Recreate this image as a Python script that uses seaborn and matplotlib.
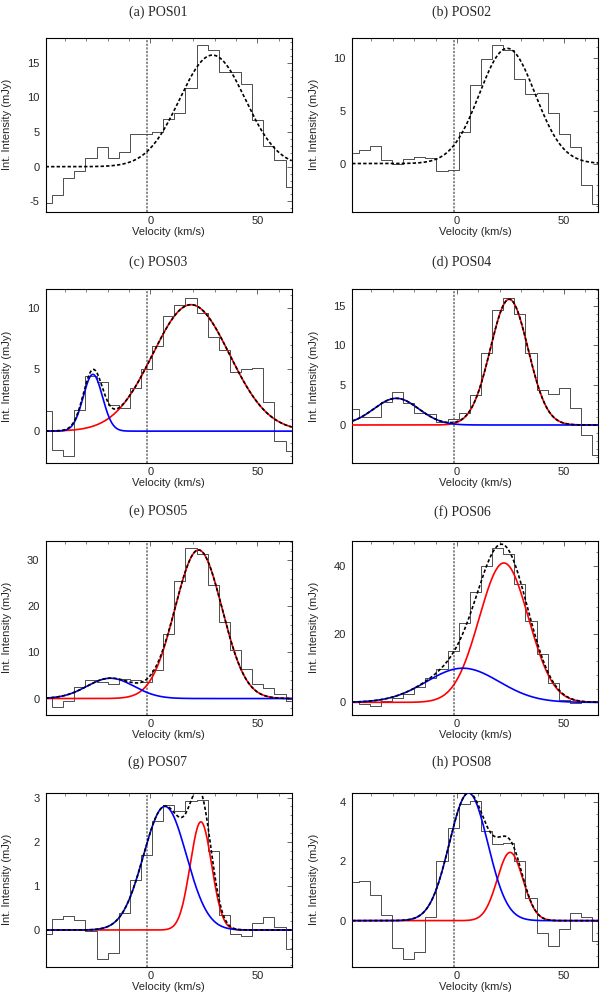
import numpy as np
import pandas as pd
import matplotlib
matplotlib.use("Agg")
import matplotlib.pyplot as plt
import seaborn as sns
from matplotlib.ticker import MultipleLocator, AutoMinorLocator

# channel centres (km/s)
velocity = [-48.6, -43.4, -38.2, -33.0, -27.8, -22.6, -17.4, -12.2, -7.0, -1.8,
            3.4, 8.6, 13.8, 19.0, 24.2, 29.4, 34.6, 39.8, 45.0, 50.2, 55.4, 60.6, 65.8]

# integrated intensity per channel (mJy)
pos01 = [-5.3, -4.1, -1.6, -0.6, 1.2, 2.8, 1.2, 2.1, 4.7, 4.7, 5.0, 6.9,
         7.8, 11.4, 17.5, 16.8, 13.6, 13.6, 11.9, 6.8, 3.0, 0.9, -3.0]
pos02 = [1.0, 1.3, 1.7, 0.3, 0.0, 0.4, 0.6, 0.5, -0.7, -0.6, 3.0, 7.4,
         9.9, 11.2, 10.7, 8.0, 6.6, 6.7, 4.8, 2.8, 1.6, -2.0, -3.8]
pos03 = [1.6, -1.5, -2.0, 1.7, 4.5, 3.95, 2.1, 1.9, 3.5, 5.0, 6.9, 9.3,
         10.2, 10.8, 9.6, 7.6, 6.6, 4.8, 5.0, 5.1, 2.4, -0.8, -1.6]
pos04 = [2.0, 1.0, 1.0, 2.9, 4.1, 2.7, 1.55, 1.35, 0.4, 0.7, 1.5, 3.8,
         9.1, 14.5, 16.0, 14.0, 9.1, 4.4, 3.9, 4.6, 2.1, -1.3, -3.8]
pos05 = [0.3, -1.8, -0.6, 2.5, 4.0, 3.6, 3.2, 4.3, 4.1, 3.6, 6.1, 14.0,
         25.5, 32.6, 31.3, 24.7, 16.6, 10.6, 6.3, 3.2, 2.2, 0.9, -0.6]
pos06 = [0.1, -0.5, -1.2, 0.5, 1.3, 2.4, 4.4, 7.1, 9.9, 15.1, 23.2, 32.2,
         40.0, 45.2, 43.4, 34.6, 23.7, 14.1, 5.7, 0.8, -0.2, 0.3, 0.3]
pos07 = [-0.1, 0.25, 0.31, 0.23, -0.03, -0.66, -0.53, 0.39, 1.14, 1.7, 2.46, 2.84,
         2.7, 2.93, 2.95, 1.8, 0.35, -0.08, -0.13, 0.15, 0.3, 0.06, -0.43]
pos08 = [1.29, 1.35, 0.86, 0.19, -0.92, -1.29, -1.06, 0.11, 2.02, 3.11, 3.94, 4.03,
         3.03, 2.58, 2.6, 2.02, 0.75, -0.43, -0.87, -0.28, 0.27, 0.11, -0.67]

# gaussian fit components: (amplitude, centre, sigma); None = single component
red_fits = [(16.1, 29.0, 15.3), (10.9, 23.5, 13.0), (10.25, 19.0, 18.0), (15.8, 24.4, 8.8),
            (32.2, 22.5, 11.0), (40.8, 21.9, 11.5), (2.45, 23.6, 5.0), (2.3, 24.8, 6.0)]
blue_fits = [None, None, (4.6, -26.9, 4.5), (3.35, -28.4, 10.5),
             (4.4, -18.7, 11.0), (10.0, 2.7, 17.0), (2.8, 6.8, 10.0), (4.3, 5.4, 9.0)]

titles = ["(a) POS01", "(b) POS02", "(c) POS03", "(d) POS04",
          "(e) POS05", "(f) POS06", "(g) POS07", "(h) POS08"]
spectra = [pos01, pos02, pos03, pos04, pos05, pos06, pos07, pos08]
ylims = [(-6.5, 18.6), (-4.56, 11.9), (-2.6, 11.5), (-4.8, 17.05),
         (-3.5, 34.2), (-3.6, 47.3), (-0.83, 3.11), (-1.55, 4.31)]
ymajor = [5, 5, 5, 5, 10, 20, 1, 2]
v_sys = -1.5


def gauss(v, p):
    a, c, s = p
    return a * np.exp(-(v - c) ** 2 / (2 * s ** 2))


sns.set_style("white")
plt.rcParams["font.family"] = ["Liberation Sans", "DejaVu Sans"]
plt.rcParams["axes.unicode_minus"] = False

fig = plt.figure(figsize=(6, 9.94), dpi=100)
lefts = [0.076, 0.587]
bottoms = [0.787, 0.534, 0.281, 0.0275]
title_x = [0.263, 0.77]
title_y = [0.9872, 0.7357, 0.4852, 0.2331]

v_fine = np.linspace(-49, 66, 600)

for i in range(8):
    row, col = divmod(i, 2)
    ax = fig.add_axes([lefts[col], bottoms[row], 0.41, 0.175])

    ax.axvline(v_sys, color="0.5", lw=1.3, ls=(0, (1.2, 0.8)), zorder=1)

    spec = pd.DataFrame({"velocity": velocity, "intensity": spectra[i]})
    sns.lineplot(data=spec, x="velocity", y="intensity", ax=ax, estimator=None,
                 drawstyle="steps-mid", color="0.3", lw=0.7, zorder=2)

    total = gauss(v_fine, red_fits[i])
    if blue_fits[i] is not None:
        red = gauss(v_fine, red_fits[i])
        blue = gauss(v_fine, blue_fits[i])
        total = red + blue
        fit = pd.DataFrame({"v": v_fine, "red": red, "blue": blue})
        sns.lineplot(data=fit, x="v", y="red", ax=ax, color="red", lw=1.2, zorder=3)
        sns.lineplot(data=fit, x="v", y="blue", ax=ax, color="blue", lw=1.2, zorder=3)
    tot = pd.DataFrame({"v": v_fine, "total": total})
    sns.lineplot(data=tot, x="v", y="total", ax=ax, color="black", lw=1.2,
                 linestyle=(0, (2, 1.3)), zorder=4)

    ax.set_xlim(-49, 66)
    ax.set_ylim(*ylims[i])
    ax.xaxis.set_major_locator(MultipleLocator(50))
    ax.xaxis.set_minor_locator(AutoMinorLocator(5))
    ax.yaxis.set_major_locator(MultipleLocator(ymajor[i]))
    ax.yaxis.set_minor_locator(AutoMinorLocator(5))
    ax.tick_params(which="both", direction="in", top=True, right=True,
                   labelsize=8, color="0.3")
    ax.tick_params(which="major", length=3.5, width=0.6)
    ax.tick_params(which="minor", length=1.8, width=0.5)
    ax.tick_params(axis="x", pad=3)
    ax.tick_params(axis="y", pad=4.5)
    for sp in ax.spines.values():
        sp.set_linewidth(0.8)
        sp.set_color("black")

    ax.set_xlabel("Velocity (km/s)", fontsize=8, labelpad=0.5)
    ax.set_ylabel("Int. Intensity (mJy)", fontsize=8)
    ax.yaxis.set_label_coords(-0.136, 0.5)

    fig.text(title_x[col], title_y[row], titles[i], ha="center", va="center",
             fontsize=10, family="Liberation Serif")

fig.savefig("out.png", dpi=100)
